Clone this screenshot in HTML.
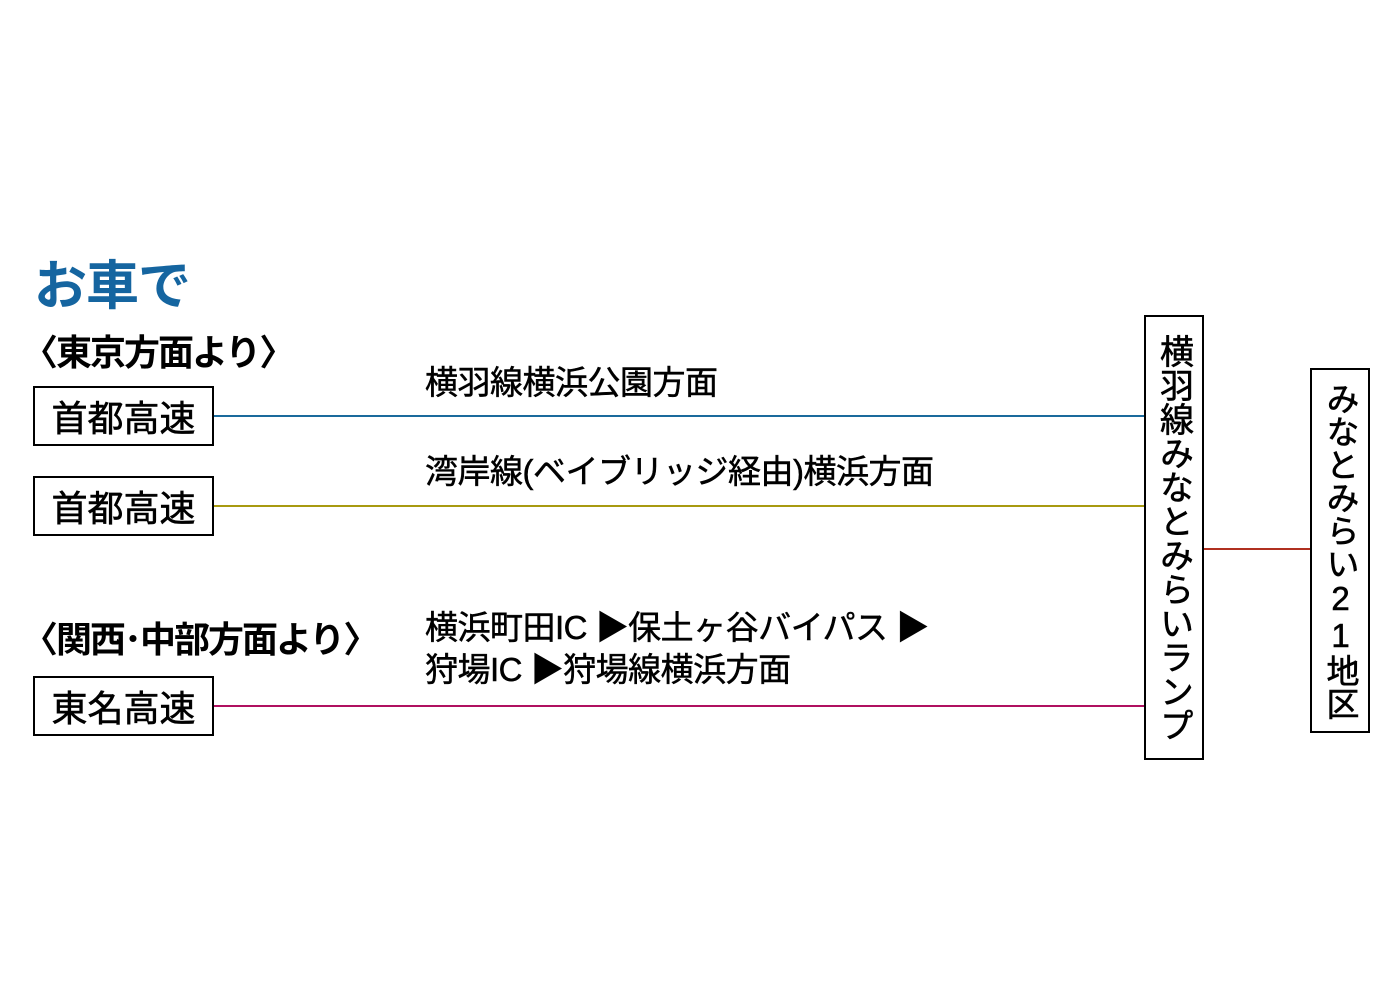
<!DOCTYPE html>
<html><head><meta charset="utf-8"><style>
body{margin:0;width:1400px;height:989px;background:#fff;position:relative;overflow:hidden;font-family:"Liberation Sans","Noto Sans CJK JP",sans-serif;font-weight:bold;color:#000}
.a{position:absolute;white-space:nowrap;line-height:1}
.box{position:absolute;border:2px solid #000;box-sizing:border-box;background:#fff}
.bl{font-size:36px;display:flex;align-items:center;justify-content:center;font-weight:normal;-webkit-text-stroke:0.6px #000}
.v{writing-mode:vertical-rl;text-orientation:upright;font-size:34px;display:flex;align-items:center;justify-content:center;font-weight:normal;-webkit-text-stroke:0.6px #000}
.ln{position:absolute;height:2px}
.r{font-size:33px;font-weight:normal;-webkit-text-stroke:0.5px #000;letter-spacing:-0.5px}
</style></head><body>
<div class="a" style="left:34px;top:260px;font-size:53px;color:#1565a0;letter-spacing:-1px">お車で</div>
<div class="a" style="left:22px;top:335px;font-size:36px;letter-spacing:-2px">〈東京方面より〉</div>
<div class="a" style="left:22px;top:622px;font-size:36px;letter-spacing:-2px">〈関西･中部方面より〉</div>
<div class="box bl" style="left:33px;top:386px;width:181px;height:60px">首都高速</div>
<div class="box bl" style="left:33px;top:476px;width:181px;height:60px">首都高速</div>
<div class="box bl" style="left:33px;top:676px;width:181px;height:60px">東名高速</div>
<div class="ln" style="left:214px;top:415px;width:930px;background:#1a6a9c"></div>
<div class="ln" style="left:214px;top:505px;width:930px;background:#a89a10"></div>
<div class="ln" style="left:214px;top:705px;width:930px;background:#b01060"></div>
<div class="ln" style="left:1203px;top:548px;width:107px;background:#b03020"></div>
<div class="a r" style="left:425px;top:366px">横羽線横浜公園方面</div>
<div class="a r" style="left:425px;top:455px">湾岸線(ベイブリッジ経由)横浜方面</div>
<div class="a r" style="left:425px;top:611px">横浜町田IC ▶保土ヶ谷バイパス ▶</div>
<div class="a r" style="left:425px;top:653px">狩場IC ▶狩場線横浜方面</div>
<div class="box v" style="left:1144px;top:315px;width:60px;height:445px">横羽線みなとみらいランプ</div>
<div class="box v" style="left:1310px;top:368px;width:60px;height:365px;font-size:33px">みなとみらい21地区</div>
</body></html>
